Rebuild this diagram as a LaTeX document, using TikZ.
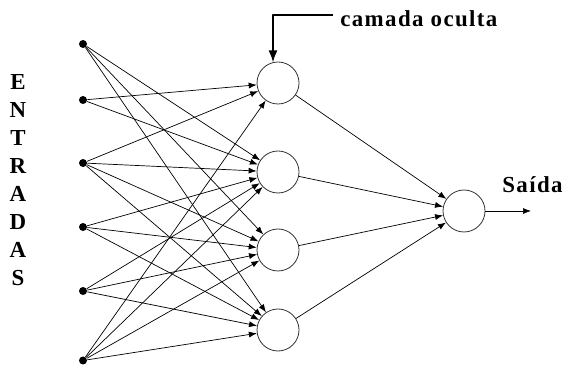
\documentclass[tikz,border=0pt]{standalone}
\usepackage{fontspec}
\setmainfont{Liberation Serif}
\usetikzlibrary{arrows.meta}
\tikzset{
  entrada/.style={circle,fill=black,inner sep=0pt,minimum size=8bp},
  neuronio/.style={circle,draw=black!80,line width=0.8bp,inner sep=0pt,minimum size=42bp},
  rotulo/.style={font=\bfseries\fontsize{23}{28}\selectfont\addfontfeature{LetterSpace=6}},
}
\begin{document}
\begin{tikzpicture}[>={Latex[length=8bp,width=6bp]},line join=bevel,line width=0.7bp]
    \useasboundingbox (0bp,0bp) rectangle (563bp,365bp);
    %%
    \node (i1) at (83.0bp,321.0bp) [entrada] {};
    \node (i2) at (83.0bp,265.0bp) [entrada] {};
    \node (i3) at (83.0bp,202.0bp) [entrada] {};
    \node (i4) at (83.0bp,138.0bp) [entrada] {};
    \node (i5) at (83.0bp,74.0bp) [entrada] {};
    \node (i6) at (83.0bp,4.5bp) [entrada] {};
    \node (h1) at (278.0bp,282.0bp) [neuronio] {};
    \node (h2) at (278.0bp,193.0bp) [neuronio] {};
    \node (h3) at (278.0bp,115.0bp) [neuronio] {};
    \node (h4) at (278.0bp,35.0bp) [neuronio] {};
    \node (o) at (464.0bp,154.0bp) [neuronio] {};
    \coordinate (s) at (531.0bp,154.0bp);
    \coordinate (cb) at (333.0bp,350.0bp);
    \coordinate (ctip) at (273.0bp,302.5bp);
    \node (entradas) at (18.0bp,185.0bp) [rotulo,align=center,inner sep=0pt] {E\\N\\T\\R\\A\\D\\A\\S};
    \node (camada) at (340.0bp,338.0bp) [rotulo,anchor=base west,inner sep=0pt] {camada oculta};
    \node (saida) at (502.0bp,172.0bp) [rotulo,anchor=base west,inner sep=0pt] {Saída};
    %
    \foreach \h in {h2,h3,h4} \draw [->] (i1) -- (\h);
    \foreach \h in {h1,h2} \draw [->] (i2) -- (\h);
    \foreach \h in {h1,h2,h3,h4} \draw [->] (i3) -- (\h);
    \foreach \h in {h2,h3,h4} \draw [->] (i4) -- (\h);
    \foreach \h in {h2,h3,h4} \draw [->] (i5) -- (\h);
    \foreach \h in {h1,h2,h3,h4} \draw [->] (i6) -- (\h);
    \foreach \h in {h1,h2,h3,h4} \draw [->] (\h) -- (o);
    \draw [->] (o) -- (s);
    \draw [->,line width=2bp,>={Latex[length=12bp,width=9bp]}] (cb) -| (ctip);
    %
\end{tikzpicture}
\end{document}
